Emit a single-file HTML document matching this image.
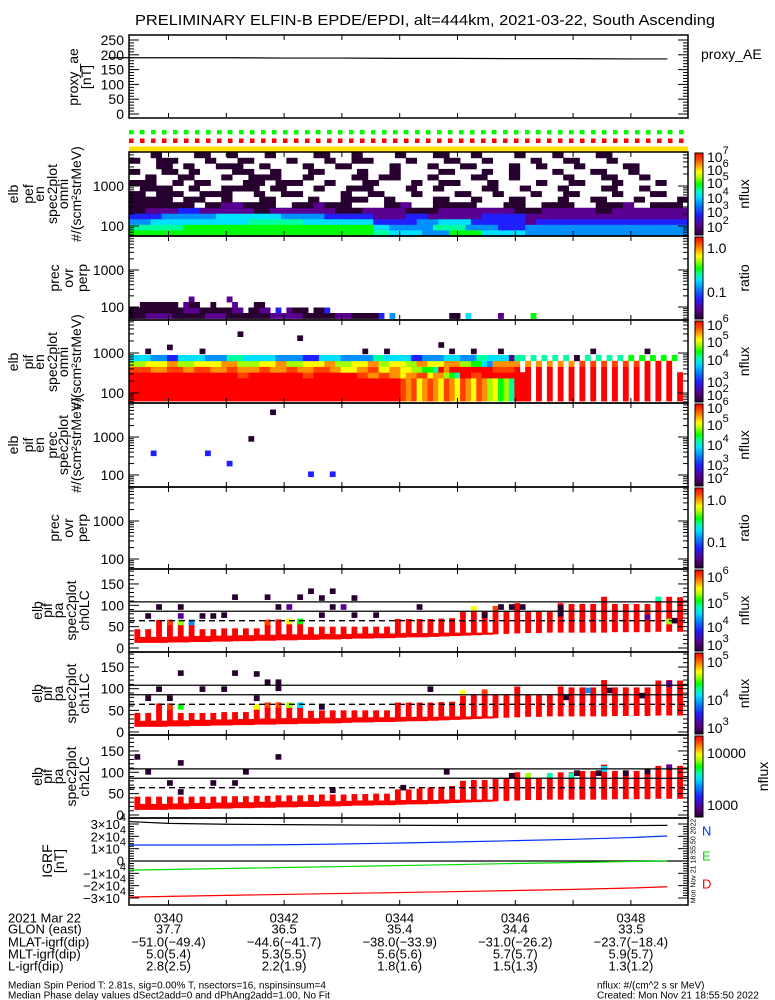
<!DOCTYPE html>
<html><head><meta charset="utf-8">
<style>
html,body{margin:0;padding:0;background:#fff;}
svg{display:block;font-family:"Liberation Sans",sans-serif;}
</style></head>
<body>
<svg id="chart" width="775" height="1000" viewBox="0 0 775 1000" xmlns="http://www.w3.org/2000/svg">
<defs>
<linearGradient id="cbar" x1="0" y1="1" x2="0" y2="0">
<stop offset="0" stop-color="#280030"/><stop offset="0.12" stop-color="#5a0090"/><stop offset="0.25" stop-color="#2020ff"/><stop offset="0.38" stop-color="#0090ff"/><stop offset="0.47" stop-color="#00e0ff"/><stop offset="0.55" stop-color="#00ffa0"/><stop offset="0.62" stop-color="#00ff00"/><stop offset="0.7" stop-color="#a0ff00"/><stop offset="0.77" stop-color="#ffff00"/><stop offset="0.86" stop-color="#ff9000"/><stop offset="0.93" stop-color="#ff4000"/><stop offset="1" stop-color="#ff0000"/>
</linearGradient>
</defs>
<text x="425" y="25" font-size="15" text-anchor="middle" textLength="580" lengthAdjust="spacingAndGlyphs" fill="#000">PRELIMINARY ELFIN-B EPDE/EPDI, alt=444km, 2021-03-22, South Ascending</text>
</svg>
<script>
// ---------- data ----------
const aeTimes = [38.96, 40, 41, 42, 43, 44, 45, 46, 47, 48, 48.63];
const aeValues = [190, 190, 190, 189, 189, 188, 188, 187, 187, 186, 186];
const aeTicks = [0, 50, 100, 150, 200, 250];

const igrfTimes = [38.96, 40, 41, 42, 43, 44, 45, 46, 47, 48, 48.63];
const igrfTotal = [32000, 30500, 29800, 29500, 29200, 29000, 28800, 28800, 28700, 28700, 28900];
const igrfN = [13000, 13000, 13000, 13200, 13800, 14600, 15500, 16500, 17600, 19000, 20300];
const igrfE = [-7400, -6900, -6100, -5300, -4500, -3700, -2900, -2000, -1200, -400, 0];
const igrfD = [-29300, -28700, -27900, -27100, -26300, -25600, -24800, -23900, -23000, -21900, -20900];

const timeTicks = [40, 42, 44, 46, 48];
const timeLabels = ['0340', '0342', '0344', '0346', '0348'];
const glon = ['37.7', '36.5', '35.4', '34.4', '33.5'];
const mlat = ['\u221251.0(\u221249.4)', '\u221244.6(\u221241.7)', '\u221238.0(\u221233.9)', '\u221231.0(\u221226.2)', '\u221223.7(\u221218.4)'];
const mlt = ['5.0(5.4)', '5.3(5.5)', '5.6(5.6)', '5.7(5.7)', '5.9(5.7)'];
const lval = ['2.8(2.5)', '2.2(1.9)', '1.8(1.6)', '1.5(1.3)', '1.3(1.2)'];

// spectrogram rows (run-length: code+count), bottom row first
const pefRows = [
 "g45t3c6a5g6c8a30",
 "t10g35c3a8t6a6b5a30",
 "a4c18t10c13b8a4c6b10p2b28",
 "b6a10c12a8b9p6b4p10b8p30",
 "d3p6b4p10d3p12d5p8d6p14d5p10d3p14",
 "d12.2d3p4d6.3d4p2d5.6d3p2.4d8.5d4.3d6.4d5p2.3d6.2d5",
 "d8.2d4.3d2.5d3.6d2.4d5.3d2.7d3.4d2.5d3.6d2.4d3.5d2.6d4",
 "d3.2d5.3d6.4d2.3d4.7d2.3d3.5d2.6d3.4d2.5d2.4d3.6d2.5d3",
 ".2d6.3d2.4d7.2d3.5d2.4d5.6d2.3d2.7d3.4d2.5d2.6d3.4d2.3",
 "d5.3d2.2d3.6d4.2d5.4d2.5d3.6d2.3d4.5d2.7d2.4d3.5d2.6d2",
 ".3d2.4d3.5d2.3d6.4d2.7d3.2d4.5d2.6d3.4d2.8d2.5d3.4d2.5",
 "d2.4d3.2d2.6d4.3d2.5d3.6d2.4d2.7d3.5d2.3d2.6d2.5d3.4d2",
 ".5d3.2d2.4d5.3d2.6d2.4d3.7d2.5d2.4d3.6d2.3d2.5d2.7d3",
 "d2.3d4.5d2.4d3.6d2.5d2.3d4.6d2.5d3.4d2.7d2.4d3.5d2",
 ".4d2.6d3.3d2.5d2.7d3.4d2.6d2.5d3.4d2.6d2.5d2.6d3.4"
];
const precRows = [
 "d3p5d6p4d8p6d6p3d5b1.1a1.10d2.1c1.5p1.5g1.50",
 "d10p3d6p2.1d2p2.1b1.1p1d3.1d2b1.80",
 ".2d7.1p1d2.2d1.3p1.3d2.80",
 ".11p1.6p1.90"
];
const pifBody = "r50e1o1e1y1o1e1o1y1e1o1y1e1o1y1e1o1l1y1g1l1t1r2r1.1r1.1r1.1r1.1r1.1r1.1r1.1r1.1r1.1r1.1r1.1r1.1r1.1r1.1r1";
const pifRows = [
 pifBody, pifBody, pifBody, pifBody,
 "r20e2r10e2r8e2o2e2o2y1o2e2y1o2l1g1t1r2e2r8r1.1r1.1r1.1r1.1r1.1r1.1r1.1r1.1r1.1r1.1r1.1r1.1r1.1r1.1r1",
 "e4o3e3o2e3o3e2o4e2o3e2o3e3o2y3o2e2y2o2y2l2g2t1r1o1r8e4r1.1r1.1r1.1r1.1r1.1r1.1r1.1r1.1r1.1r1.1r1.1r1.1r1.1r1.1r1",
 "l3y4o2l3y5o3l4y3o2l3y4o2l3y3o2l2y3l2o2y3o3l2g2c1a1o4o1.1o1.1o1.1o1.1o1.1o1.1e1.1e1.1e1.1e1.1e1.1e1.1r1.1r1.1r1",
 "c4a3b2c5a4t3c6a5b3c4a6t2c5b2a4c3a3t2c4p1t1t1.1t1.1t1.1t1.1t1.1d1.1t1.1t1.1t1.1t1.1g1.1g1.1g1.1g1.1g1"
];
// sparse cells: [col, log10 value, code]
const pifoDots = [[20,3.47,'d'],[31,3.37,'d'],[3,3.04,'d'],[7,3.14,'d'],[13,3.04,'d'],[43,3.04,'d'],[47,3.04,'d'],[57,3.2,'d'],[59,3.04,'d'],[63,3.04,'d'],[68,3.04,'d'],[85,3.04,'d'],[95,3.04,'d']];
const pifpDots = [[4,2.57,'b'],[14,2.57,'b'],[18,2.3,'b'],[22,2.95,'d'],[26,3.65,'d'],[33,2.02,'b'],[37,2.02,'b']];

// pitch angle panels: 51 bars
const ch0Top = [44,44,66,66,66,66,44,44,46,46,46,46,66,67,67,67,49,50,50,50,50,50,50,50,68,68,68,68,69,70,85,85,85,85,85,105,85,85,85,105,103,103,103,120,103,103,103,103,119,120,119];
const ch1Top = [44,44,66,66,44,44,44,44,46,46,46,64,66,67,67,67,49,50,50,50,50,50,50,50,68,68,68,68,69,70,85,85,85,85,85,105,85,85,85,105,103,103,103,120,103,103,103,103,119,120,119];
const ch2Top = [43,43,43,43,43,43,43,43,44,44,44,45,45,46,46,46,47,48,48,48,49,49,50,50,60,60,62,64,66,68,80,82,82,85,85,100,85,85,88,100,100,103,103,118,103,103,103,103,115,118,115];
const barBot = [12,12,12,13,13,14,14,15,15,16,16,17,17,18,18,19,19,20,20,21,22,22,23,23,24,25,25,26,27,28,29,30,31,32,33,34,35,35,36,36,36,36,36,36,37,37,37,37,38,38,38];
const bandH = [14,14,14,14,14,14,14,14,14,14,14,14,14,14,14,13,13,13,12,12,12,12,11,11,11,10,10,9,9,8,7,6,5,0,0,0,0,0,0,0,0,0,0,0,0,0,0,0,0,0,0];
const paLines = [108, 86];
const paDash = [64];
// [barIndex, value, code]
const ch0Caps = [[3,60,'e'],[4,60,'l'],[5,60,'a'],[12,60,'e'],[14,62,'y'],[15,62,'g'],[31,92,'y'],[33,92,'e'],[48,114,'t'],[49,62,'l']];
const ch1Caps = [[3,58,'e'],[4,58,'g'],[11,58,'y'],[12,62,'e'],[13,62,'e'],[14,62,'l'],[15,62,'c'],[30,90,'y'],[32,92,'e'],[49,112,'p']];
const ch2Caps = [[36,92,'l'],[38,92,'t'],[40,92,'t'],[43,108,'c'],[49,112,'p']];
// [col, value, code]
const ch0Dots = [[5,96,'d'],[3,75,'d'],[9,96,'d'],[9,75,'p'],[13,75,'d'],[15,75,'d'],[17,77,'d'],[19,119,'d'],[25,119,'d'],[27,96,'d'],[29,96,'p'],[31,119,'d'],[33,133,'d'],[35,117,'d'],[35,77,'d'],[37,133,'d'],[37,96,'d'],[39,96,'p'],[41,117,'d'],[41,77,'d'],[45,77,'d'],[53,96,'d'],[65,77,'d'],[68,96,'d'],[70,96,'d'],[72,96,'d'],[79,94,'d'],[79,80,'d'],[95,72,'p'],[100,64,'d']];
const ch1Dots = [[9,136,'d'],[19,136,'d'],[23,134,'d'],[25,115,'d'],[27,115,'d'],[27,101,'d'],[5,99,'d'],[13,99,'d'],[17,99,'d'],[3,78,'d'],[7,78,'d'],[23,78,'d'],[35,58,'d'],[55,99,'d'],[80,80,'d'],[84,96,'a'],[88,96,'d'],[94,84,'d'],[99,110,'p']];
const ch2Dots = [[1,136,'d'],[9,122,'d'],[3,101,'d'],[21,101,'d'],[27,136,'d'],[7,75,'d'],[15,75,'d'],[19,75,'d'],[9,54,'d'],[37,58,'d'],[58,101,'d'],[50,64,'d'],[70,92,'d'],[82,98,'d'],[86,98,'d'],[91,98,'d'],[95,102,'d']];

// ---------- geometry ----------
const NS = 'http://www.w3.org/2000/svg';
const svg = document.getElementById('chart');
const X0 = 129, X1 = 688, NC = 103, CW = (X1 - X0) / NC;
function xT(m) { return 168.5 + (m - 40) * 57.8; }
function xC(c) { return X0 + c * CW; }
const codeMap = {d:0.0,p:0.12,b:0.25,a:0.38,c:0.47,t:0.55,g:0.62,l:0.7,y:0.77,o:0.86,e:0.93,r:1};
const stops = [[0,[40,0,48]],[0.12,[90,0,144]],[0.25,[32,32,255]],[0.38,[0,144,255]],[0.47,[0,224,255]],[0.55,[0,255,160]],[0.62,[0,255,0]],[0.7,[160,255,0]],[0.77,[255,255,0]],[0.86,[255,144,0]],[0.93,[255,64,0]],[1,[255,0,0]]];
function cmap(t) {
  for (let i = 1; i < stops.length; i++) {
    if (t <= stops[i][0]) {
      const a = stops[i-1], b = stops[i], f = (t - a[0]) / (b[0] - a[0]);
      return 'rgb(' + a[1].map((v, k) => Math.round(v + (b[1][k] - v) * f)).join(',') + ')';
    }
  }
  return 'rgb(255,0,0)';
}
function rle(s) {
  let out = '', i = 0;
  while (i < s.length) {
    const ch = s[i]; i++;
    let n = '';
    while (i < s.length && /[0-9]/.test(s[i])) { n += s[i]; i++; }
    out += ch.repeat(n ? parseInt(n) : 1);
  }
  return out.slice(0, NC);
}
function mk(tag, attrs, name, parent) {
  const el = document.createElementNS(NS, tag);
  for (const k in attrs) el.setAttribute(k, attrs[k]);
  
  
  (parent || svg).appendChild(el);
  return el;
}
function txt(x, y, s, name, opts) {
  const o = Object.assign({'font-size': 14, 'dominant-baseline': 'central', fill: '#000'}, opts || {});
  o.x = x; o.y = y;
  const t = mk('text', o, name);
  t.textContent = s;
  return t;
}
function sup(x, y, base, exp, name, opts) {
  const t = txt(x, y, '', name, opts);
  const a = document.createElementNS(NS, 'tspan'); a.textContent = base; t.appendChild(a);
  const b = document.createElementNS(NS, 'tspan'); b.textContent = exp;
  b.setAttribute('dy', '-6'); b.setAttribute('font-size', '11'); t.appendChild(b);
  return t;
}
function rotLabel(lines, xs, yc, prefix) {
  lines.forEach((s, i) => {
    txt(0, 0, s, prefix + '-line-' + i, {'text-anchor': 'middle', transform: 'translate(' + xs[i] + ',' + yc + ') rotate(-90)'});
  });
}

// ---------- panels ----------
const panels = {
  ae: [35, 118], pef: [152, 236], prec1: [236, 320], pifo: [320, 403], pifp: [403, 487],
  prec2: [487, 569], ch0: [569, 652], ch1: [652, 735], ch2: [735, 818], igrf: [818, 905]
};
function frame(key) {
  const [t, b] = panels[key];
  mk('rect', {x: X0, y: t, width: X1 - X0, height: b - t, fill: 'none', stroke: '#000', 'stroke-width': 1.5}, key + '-frame');
  for (let m = 39; m <= 48; m++) {
    const x = xT(m);
    if (x < X0 || x > X1) continue;
    mk('line', {x1: x, x2: x, y1: t, y2: t + 5, stroke: '#000'}, key + '-xtick-top');
    mk('line', {x1: x, x2: x, y1: b, y2: b - 5, stroke: '#000'}, key + '-xtick-bottom');
  }
}
function logAxis(key, y1000, pxDec, labels) {
  const [t, b] = panels[key];
  const yv = v => y1000 - (Math.log10(v) - 3) * pxDec;
  for (let d = 1; d <= 4; d++) for (let k = 1; k <= 9; k++) {
    const v = k * Math.pow(10, d), y = yv(v);
    if (y < t || y > b) continue;
    const L = k === 1 ? 10 : 5;
    mk('line', {x1: X0, x2: X0 + L, y1: y, y2: y, stroke: '#000'}, key + '-ytick-left');
    mk('line', {x1: X1, x2: X1 - L, y1: y, y2: y, stroke: '#000'}, key + '-ytick-right');
  }
  labels.forEach(v => txt(124, yv(v), String(v), key + '-ytick-label', {'text-anchor': 'end'}));
  return yv;
}
function cellRows(rows, yBot, rowH, key) {
  rows.forEach((r, ri) => {
    const s = rle(r);
    for (let c = 0; c < s.length; c++) {
      const ch = s[c];
      if (ch === '.' || !(ch in codeMap)) continue;
      mk('rect', {x: xC(c), y: yBot - (ri + 1) * rowH, width: CW + 0.4, height: rowH + 0.4, fill: cmap(codeMap[ch])}, key + '-cell');
    }
  });
}
function colorbar(key, labels, unit, unitX) {
  const [t, b] = panels[key];
  mk('rect', {x: 695, y: t + 1, width: 8, height: b - t - 2, fill: 'url(#cbar)', stroke: '#000', 'stroke-width': 1}, key + '-colorbar');
  labels.forEach(l => {
    if (l[2]) sup(707, l[1], l[0], l[2], key + '-colorbar-label');
    else txt(707, l[1], l[0], key + '-colorbar-label');
  });
  txt(0, 0, unit, key + '-colorbar-title', {'text-anchor': 'middle', transform: 'translate(' + (unitX || 744) + ',' + ((t + b) / 2) + ') rotate(-90)'});
}

// proxy AE
frame('ae');
const aeY = v => 114 - v * 0.296;
for (let v = 0; v <= 250; v += 10) {
  const L = v % 50 === 0 ? 10 : 5;
  mk('line', {x1: X0, x2: X0 + L, y1: aeY(v), y2: aeY(v), stroke: '#000'}, 'ae-ytick-left');
  mk('line', {x1: X1, x2: X1 - L, y1: aeY(v), y2: aeY(v), stroke: '#000'}, 'ae-ytick-right');
}
aeTicks.forEach(v => txt(124, aeY(v), String(v), 'ae-ytick-label', {'text-anchor': 'end'}));
mk('polyline', {points: aeTimes.map((m, i) => xT(m) + ',' + aeY(aeValues[i])).join(' '), fill: 'none', stroke: '#000', 'stroke-width': 1.2}, 'proxy-ae-line');
txt(701, 54, 'proxy_AE', 'proxy-ae-legend');
rotLabel(['proxy_ae', '[nT]'], [73, 86], 77, 'ae-ylabel');

// flag squares and yellow bar
for (let i = 0; i < 51; i++) {
  const x = 129 + i * 11;
  mk('rect', {x: x, y: 130, width: 4.5, height: 4.5, fill: '#00ff00'}, 'quality-flag-green');
  mk('rect', {x: x, y: 138.5, width: 4.5, height: 4.5, fill: '#ff0000'}, 'quality-flag-red');
}
mk('rect', {x: X0, y: 146.5, width: X1 - X0, height: 5.5, fill: '#ffe000'}, 'sunlight-bar');

// pef omni
cellRows(pefRows, 235.5, 5.55, 'pef');
frame('pef'); logAxis('pef', 186, 40, [100, 1000]);
rotLabel(['elb', 'pef', 'en', 'spec2plot', 'omni', '#/(scm\u00B2strMeV)'], [13, 28, 39, 52, 63, 76], 194, 'pef-ylabel');
colorbar('pef', [['10', 157, '7'], ['10', 170, '6'], ['10', 183, '5'], ['10', 198, '4'], ['10', 212, '3'], ['10', 227, '2']], 'nflux');

// prec ovr perp 1
cellRows(precRows, 318.5, 5.5, 'prec1');
frame('prec1'); logAxis('prec1', 270, 37, [100, 1000]);
rotLabel(['prec', 'ovr', 'perp'], [54, 68, 82], 278, 'prec1-ylabel');
colorbar('prec1', [['1.0', 248], ['0.1', 292]], 'ratio');

// pif omni
cellRows(pifRows, 401, 5.75, 'pifo');
frame('pifo');
const pifoY = logAxis('pifo', 353, 40, [100, 1000]);
pifoDots.forEach(d => mk('rect', {x: xC(d[0]), y: pifoY(Math.pow(10, d[1])) - 2.8, width: CW + 0.4, height: 5.6, fill: cmap(codeMap[d[2]])}, 'pifo-sparse-cell'));
rotLabel(['elb', 'pif', 'en', 'spec2plot', 'omni', '#/(scm\u00B2strMeV)'], [13, 28, 39, 52, 63, 76], 362, 'pifo-ylabel');
colorbar('pifo', [['10', 325, '6'], ['10', 342, '5'], ['10', 360, '4'], ['10', 382, '3'], ['10', 395, '2']], 'nflux');

// pif prec
frame('pifp');
const pifpY = logAxis('pifp', 437, 38, [100, 1000]);
pifpDots.forEach(d => mk('rect', {x: xC(d[0]), y: pifpY(Math.pow(10, d[1])) - 2.8, width: CW + 0.4, height: 5.6, fill: cmap(codeMap[d[2]])}, 'pifp-sparse-cell'));
rotLabel(['elb', 'pif', 'en', 'prec', 'spec2plot', '#/(scm\u00B2strMeV)'], [13, 28, 39, 52, 63, 76], 445, 'pifp-ylabel');
colorbar('pifp', [['10', 408, '6'], ['10', 425, '5'], ['10', 445, '4'], ['10', 465, '3'], ['10', 478, '2']], 'nflux');

// prec ovr perp 2
frame('prec2'); logAxis('prec2', 521, 38, [100, 1000]);
rotLabel(['prec', 'ovr', 'perp'], [54, 68, 82], 528, 'prec2-ylabel');
colorbar('prec2', [['1.0', 500], ['0.1', 542]], 'ratio');

// pitch angle panels
function paPanel(key, yZero, ppu, tops, caps, dots, name, cb, unitX) {
  const [t, b] = panels[key];
  const yv = v => yZero - v * ppu;
  tops.forEach((top, i) => {
    const c = 2 * i + 1;
    mk('rect', {x: xC(c), y: yv(top), width: CW + 0.4, height: (top - barBot[i]) * ppu, fill: '#ff0000'}, key + '-bar');
    if (bandH[i] > 0 && i < tops.length - 1)
      mk('rect', {x: xC(c + 1) - 0.2, y: yv(barBot[i] + bandH[i]), width: CW + 0.8, height: bandH[i] * ppu, fill: '#ff0000'}, key + '-band');
  });
  caps.forEach(cp => mk('rect', {x: xC(2 * cp[0] + 1), y: yv(cp[1]) - 2.8, width: CW + 0.4, height: 5.6, fill: cmap(codeMap[cp[2]])}, key + '-cap-cell'));
  dots.forEach(d => mk('rect', {x: xC(d[0]), y: yv(d[1]) - 2.8, width: CW + 0.4, height: 5.6, fill: cmap(codeMap[d[2]])}, key + '-sparse-cell'));
  paLines.forEach(v => mk('line', {x1: X0, x2: X1, y1: yv(v), y2: yv(v), stroke: '#000', 'stroke-width': 1.3}, key + '-loss-cone-line'));
  paDash.forEach(v => mk('line', {x1: X0, x2: X1, y1: yv(v), y2: yv(v), stroke: '#000', 'stroke-width': 1.3, 'stroke-dasharray': '6,4'}, key + '-dashed-line'));
  frame(key);
  for (let v = -10; v <= 180; v += 10) {
    const y = yv(v); if (y < t || y > b) continue;
    const L = v % 50 === 0 ? 10 : 5;
    mk('line', {x1: X0, x2: X0 + L, y1: y, y2: y, stroke: '#000'}, key + '-ytick-left');
    mk('line', {x1: X1, x2: X1 - L, y1: y, y2: y, stroke: '#000'}, key + '-ytick-right');
  }
  [0, 50, 100, 150].forEach(v => txt(124, yv(v), String(v), key + '-ytick-label', {'text-anchor': 'end'}));
  rotLabel(['elb', 'pif', 'pa', 'spec2plot', name], [37, 47, 58, 71, 84], (t + b) / 2, key + '-ylabel');
  colorbar(key, cb, 'nflux', unitX);
}
paPanel('ch0', 648, 0.427, ch0Top, ch0Caps, ch0Dots, 'ch0LC', [['10', 577, '6'], ['10', 603, '5'], ['10', 627, '4'], ['10', 645, '3']]);
paPanel('ch1', 732, 0.433, ch1Top, ch1Caps, ch1Dots, 'ch1LC', [['10', 662, '5'], ['10', 700, '4'], ['10', 728, '3']]);
paPanel('ch2', 815, 0.427, ch2Top, ch2Caps, ch2Dots, 'ch2LC', [['10000', 753], ['1000', 805]], 763);

// IGRF
frame('igrf');
const igY = v => 861 - v * 0.001233;
for (let v = -30000; v <= 30000; v += 2000) {
  const L = v % 10000 === 0 ? 10 : 5;
  mk('line', {x1: X0, x2: X0 + L, y1: igY(v), y2: igY(v), stroke: '#000'}, 'igrf-ytick-left');
  mk('line', {x1: X1, x2: X1 - L, y1: igY(v), y2: igY(v), stroke: '#000'}, 'igrf-ytick-right');
}
mk('line', {x1: X0, x2: X1, y1: igY(0), y2: igY(0), stroke: '#000', 'stroke-width': 1.3}, 'igrf-zero-line');
[3, 2, 1, -1, -2, -3].forEach(k => sup(126, igY(k * 10000), (k < 0 ? '\u2212' : '') + Math.abs(k) + '\u00D710', '4', 'igrf-ytick-label', {'text-anchor': 'end', 'font-size': 13}));
txt(124, igY(0), '0', 'igrf-ytick-label', {'text-anchor': 'end', 'font-size': 13});
[[igrfTotal, '#000', 'igrf-total-line'], [igrfN, '#0030ff', 'igrf-n-line'], [igrfE, '#00dd00', 'igrf-e-line'], [igrfD, '#ff0000', 'igrf-d-line']].forEach(s => {
  mk('polyline', {points: igrfTimes.map((m, i) => Math.min(X1, Math.max(X0, xT(m))) + ',' + igY(s[0][i])).join(' '), fill: 'none', stroke: s[1], 'stroke-width': 1.2}, s[2]);
});
txt(702, 831, 'N', 'igrf-legend-n', {fill: '#0030ff', 'font-size': 13});
txt(702, 856, 'E', 'igrf-legend-e', {fill: '#00dd00', 'font-size': 13});
txt(702, 884, 'D', 'igrf-legend-d', {fill: '#ff0000', 'font-size': 13});
rotLabel(['IGRF', '[nT]'], [47, 59], 861, 'igrf-ylabel');
txt(0, 0, 'Mon Nov 21 18:55:50 2022', 'creation-stamp-vertical', {'font-size': 7, 'text-anchor': 'middle', transform: 'translate(694,861) rotate(-90)'});

// bottom annotation table
const rowsY = [918, 929, 942, 954, 966];
const rowLabels = ['2021 Mar 22', 'GLON (east)', 'MLAT-igrf(dip)', 'MLT-igrf(dip)', 'L-igrf(dip)'];
rowLabels.forEach((l, i) => txt(8, rowsY[i], l, 'orbit-row-label', {'font-size': 13}));
const tableVals = [timeLabels, glon, mlat, mlt, lval];
tableVals.forEach((arr, r) => arr.forEach((v, i) => txt(xT(timeTicks[i]), rowsY[r], v, 'orbit-row-value', {'font-size': 13, 'text-anchor': 'middle'})));
txt(8, 986, 'Median Spin Period T: 2.81s, sig=0.00% T, nsectors=16, nspinsinsum=4', 'footer-spin-info', {'font-size': 10});
txt(8, 996, 'Median Phase delay values dSect2add=0 and dPhAng2add=1.00, No Fit', 'footer-phase-info', {'font-size': 10});
txt(597, 986, 'nflux: #/(cm^2 s sr MeV)', 'footer-units', {'font-size': 10});
txt(597, 996, 'Created: Mon Nov 21 18:55:50 2022', 'footer-created', {'font-size': 10});
</script>
</body></html>
